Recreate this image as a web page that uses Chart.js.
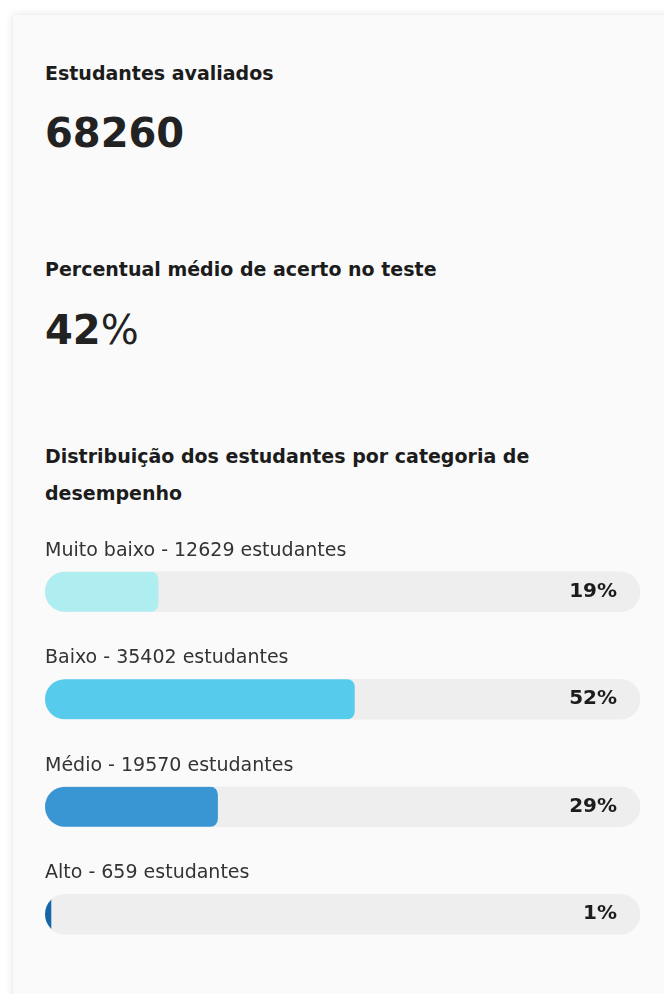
<!DOCTYPE html>
<html>
<head>
    <title>Distribuição dos estudantes</title>
    <script src="https://cdn.jsdelivr.net/npm/chart.js"></script>
    <style>
        body {
            margin: 0;
            background: #ffffff;
            font-family: 'DejaVu Sans', sans-serif;
            overflow: hidden;
        }
        .card {
            position: absolute;
            left: 13px;
            top: 15px;
            width: 720px;
            height: 1020px;
            background: #fafafa;
            box-shadow: 0 0 8px rgba(0,0,0,0.12);
        }
        .title {
            position: absolute;
            left: 32px;
            font-weight: 700;
            font-size: 19px;
            line-height: 24px;
            color: #1c1c1c;
            white-space: nowrap;
        }
        .big {
            position: absolute;
            left: 32px;
            font-weight: 700;
            font-size: 40px;
            line-height: 48px;
            color: #222;
        }
        #chart-container {
            position: absolute;
            left: 32px;
            top: 523px;
            width: 595px;
            height: 430px;
        }
    </style>
</head>
<body>

<div class="card">
    <div class="title" style="top:46px">Estudantes avaliados</div>
    <div class="big" style="top:94px">68260</div>
    <div class="title" style="top:242px">Percentual médio de acerto no teste</div>
    <div class="big" style="top:291px">42<span style="font-weight:400">%</span></div>
    <div class="title" style="top:423px; line-height:37px">Distribuição dos estudantes por categoria de<br>desempenho</div>
    <div id="chart-container">
        <canvas id="distChart"></canvas>
    </div>
</div>

<script>
    const categories = ['Muito baixo', 'Baixo', 'Médio', 'Alto'];
    const students = [12629, 35402, 19570, 659];
    const percents = [19, 52, 29, 1];
    const fullTrack = [100, 100, 100, 100];
    const barColors = ['#aeeef0', '#56cbec', '#3a96d3', '#1565a8'];

    // clip the coloured bars to the rounded grey tracks, like overflow:hidden
    const trackClip = {
        id: 'trackClip',
        beforeDatasetDraw(chart, args) {
            if (args.index !== 1) return;
            const ctx = chart.ctx;
            ctx.save();
            ctx.beginPath();
            chart.getDatasetMeta(0).data.forEach(t => {
                const left = Math.min(t.base, t.x);
                ctx.roundRect(left, t.y - t.height / 2, Math.abs(t.x - t.base), t.height, t.height / 2);
            });
            ctx.clip();
        },
        afterDatasetDraw(chart, args) {
            if (args.index === 1) chart.ctx.restore();
        }
    };

    const barLabels = {
        id: 'barLabels',
        afterDatasetsDraw(chart) {
            const ctx = chart.ctx;
            const meta = chart.getDatasetMeta(1);
            const area = chart.chartArea;
            ctx.save();
            meta.data.forEach((bar, i) => {
                ctx.textBaseline = 'middle';
                ctx.textAlign = 'left';
                ctx.fillStyle = '#333';
                ctx.font = "19px 'DejaVu Sans', sans-serif";
                ctx.fillText(categories[i] + ' - ' + students[i] + ' estudantes', area.left, bar.y - 41);
                ctx.textAlign = 'right';
                ctx.fillStyle = '#1c1c1c';
                ctx.font = "bold 20px 'DejaVu Sans', sans-serif";
                ctx.fillText(percents[i] + '%', area.right - 23, bar.y);
            });
            ctx.restore();
        }
    };

    new Chart(document.getElementById('distChart'), {
        type: 'bar',
        data: {
            labels: categories,
            datasets: [{
                data: fullTrack,
                backgroundColor: '#eeeeee',
                borderRadius: 20,
                borderSkipped: false,
                barThickness: 40,
                grouped: false,
                order: 2
            }, {
                data: percents,
                backgroundColor: barColors,
                borderRadius: { topLeft: 0, bottomLeft: 0, topRight: 8, bottomRight: 8 },
                borderSkipped: false,
                barThickness: 40,
                grouped: false,
                order: 1
            }]
        },
        options: {
            indexAxis: 'y',
            responsive: true,
            maintainAspectRatio: false,
            animation: false,
            layout: { padding: 0 },
            scales: {
                x: { display: false, min: 0, max: 100 },
                y: { display: false }
            },
            plugins: {
                legend: { display: false },
                tooltip: { enabled: false }
            }
        },
        plugins: [trackClip, barLabels]
    });
</script>

</body>
</html>
